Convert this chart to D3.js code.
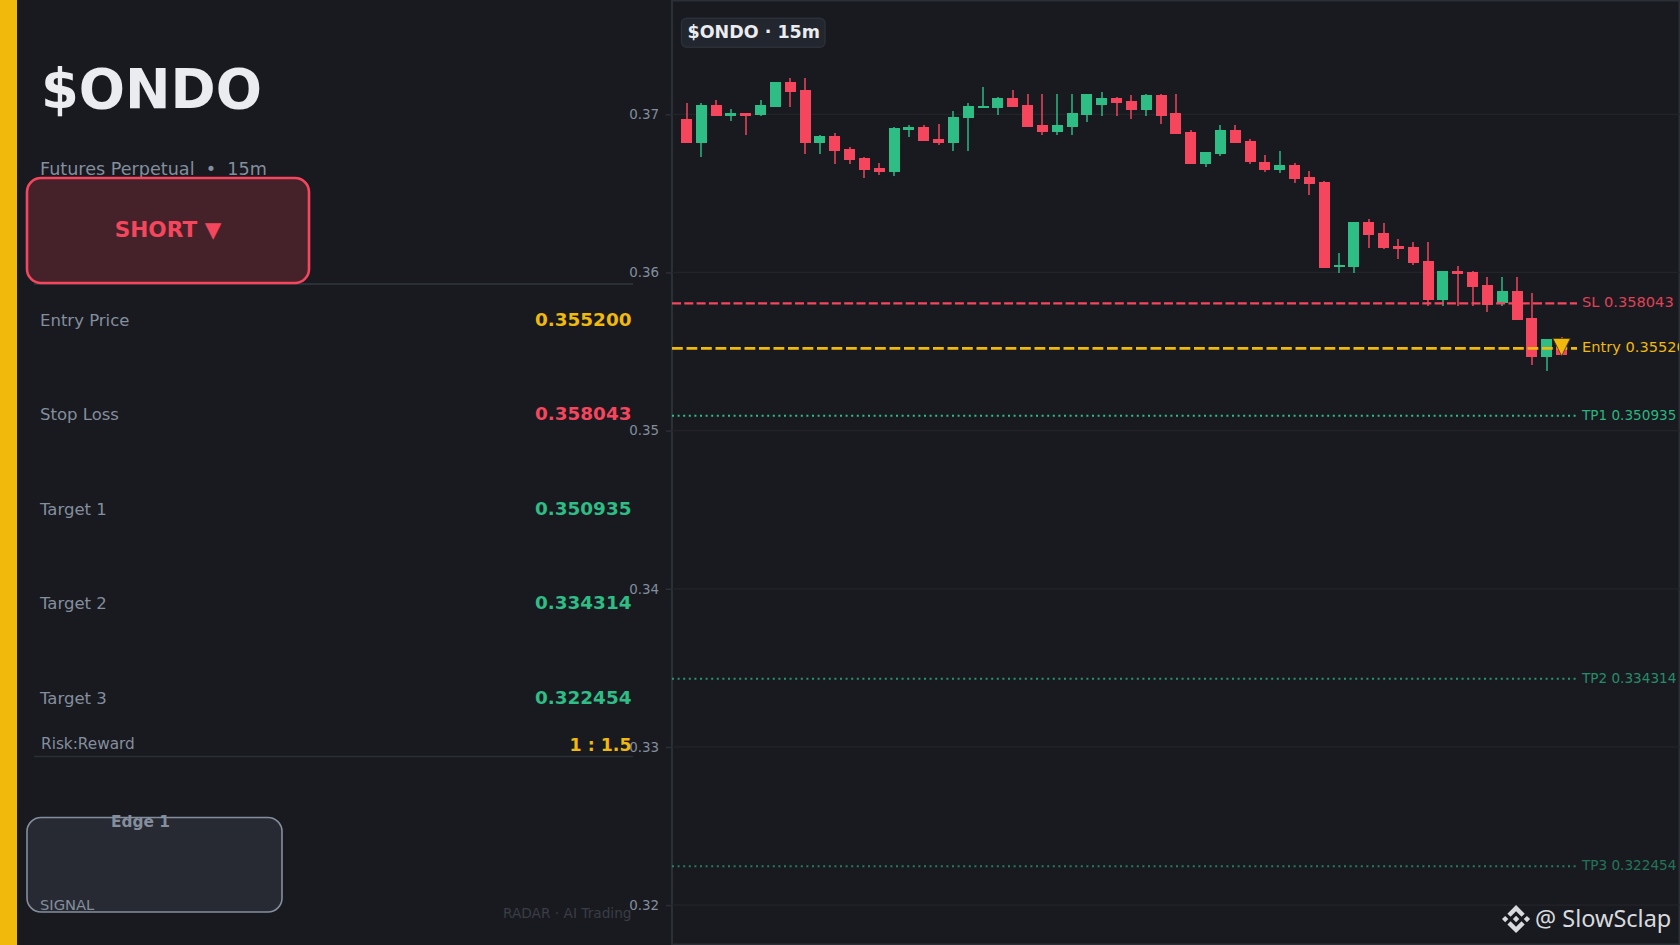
<!DOCTYPE html>
<html><head><meta charset="utf-8">
<script src="https://cdnjs.cloudflare.com/ajax/libs/d3/7.8.5/d3.min.js"></script>
<style>html,body{margin:0;padding:0;background:#181a20;overflow:hidden}svg{display:block}text{font-family:"DejaVu Sans",sans-serif}</style>
</head><body><svg id="c" width="1680" height="945"></svg>
<script>
const opens=[.36970,.36819,.37059,.36989,.37008,.36996,.37046,.37204,.37154,.36819,.36863,.36781,.36724,.36661,.36635,.36901,.36920,.36844,.36819,.36977,.37040,.37040,.37103,.37059,.36933,.36888,.36920,.36996,.37059,.37103,.37084,.37027,.37122,.37008,.36888,.36686,.36749,.36901,.36831,.36699,.36648,.36680,.36604,.36572,.36035,.36035,.36319,.36250,.36167,.36161,.36072,.35826,.36009,.36003,.35921,.35807,.35883,.35712,.35465,.35550];
const highs=[.37072,.37072,.37091,.37034,.37008,.37091,.37204,.37230,.37230,.36869,.36882,.36793,.36730,.36692,.36920,.36933,.36933,.36939,.37021,.37072,.37173,.37110,.37154,.37129,.37129,.37129,.37129,.37129,.37141,.37110,.37122,.37129,.37129,.37129,.36901,.36762,.36933,.36933,.36844,.36743,.36768,.36692,.36642,.36578,.36123,.36319,.36338,.36313,.36212,.36193,.36193,.36009,.36041,.36009,.35971,.35971,.35971,.35870,.35579,.35592];
const lows=[.36819,.36730,.36989,.36958,.36869,.36989,.37046,.37046,.36749,.36749,.36686,.36686,.36597,.36616,.36610,.36857,.36831,.36806,.36768,.36768,.37040,.36996,.37046,.36920,.36869,.36869,.36869,.36952,.36989,.36989,.36970,.36989,.36939,.36876,.36686,.36667,.36736,.36819,.36686,.36635,.36629,.36566,.36490,.36028,.35997,.35997,.36155,.36148,.36085,.36047,.35788,.35788,.35788,.35788,.35750,.35788,.35699,.35415,.35377,.35478];
const closes=[.36819,.37059,.36989,.37008,.36989,.37059,.37204,.37141,.36819,.36863,.36768,.36711,.36648,.36635,.36914,.36920,.36831,.36819,.36983,.37053,.37053,.37103,.37046,.36920,.36888,.36933,.37008,.37129,.37103,.37072,.37027,.37122,.36989,.36876,.36686,.36762,.36901,.36819,.36699,.36648,.36680,.36591,.36559,.36028,.36047,.36319,.36237,.36155,.36148,.36060,.35826,.36009,.35990,.35908,.35794,.35883,.35699,.35465,.35579,.35478];
const yTicks=[.32,.33,.34,.35,.36,.37];
const levels=[
 {name:"SL",value:.358043},
 {name:"Entry",value:.3552},
 {name:"TP1",value:.350935},
 {name:"TP2",value:.334314},
 {name:"TP3",value:.322454}];
const rowLabels=["Entry Price","Stop Loss","Target 1","Target 2","Target 3"];
const rowValues=["0.355200","0.358043","0.350935","0.334314","0.322454"];

const YEL="#f0b90b",RED="#f6465d",GRN="#2ebd85",GREY="#848e9c",LINE="#2b2f36";
const levelStyle={SL:{c:RED,w:2.3,d:"9,3.3",o:1,to:.9},Entry:{c:YEL,w:2.8,d:"10.8,3.7",o:1,to:1},TP1:{c:GRN,w:2,d:"2,3.6",o:1,to:.95},TP2:{c:GRN,w:2,d:"2,3.6",o:.75,to:.7},TP3:{c:GRN,w:2,d:"2,3.6",o:.6,to:.55}};

const svg=d3.select("#c");
const x=d3.scaleLinear().domain([0,opens.length-1]).range([686.5,1561.6]);
const y=d3.scaleLinear().domain([.32,.37]).range([905.1,114.3]);

const T=(g,tx,ty,s,size,fill,opt={})=>g.append("text").attr("x",tx).attr("y",ty).text(s)
  .attr("font-size",size).attr("fill",fill).attr("font-weight",opt.b?"bold":"normal").attr("text-anchor",opt.a||"start");

// left panel
const p=svg.append("g");
p.append("rect").attr("width",17).attr("height",945).attr("fill",YEL);
T(p,41,108,"$ONDO",54.4,"#eaecef",{b:1});
T(p,40,175,"Futures Perpetual  •  15m",17.6,GREY).attr("xml:space","preserve");
p.append("line").attr("x1",34).attr("x2",633).attr("y1",284).attr("y2",284).attr("stroke",LINE).attr("stroke-width",2);
p.append("rect").attr("x",27).attr("y",178).attr("width",282).attr("height",105).attr("rx",14).attr("fill","#452229").attr("stroke",RED).attr("stroke-width",2.6);
T(p,168,237,"SHORT ▼",21.6,RED,{b:1,a:"middle"});
const rowColors=[YEL,RED,GRN,GRN,GRN];
const rowY=d3.scalePoint().domain(rowLabels).range([325.6,703.8]);
rowLabels.forEach((l,i)=>{
  T(p,40,rowY(l),l,16.5,GREY);
  T(p,631.5,rowY(l),rowValues[i],18.4,rowColors[i],{b:1,a:"end"});
});
T(p,41,749,"Risk:Reward",15.3,GREY);
T(p,631.5,751,"1 : 1.5",17.4,YEL,{b:1,a:"end"});
p.append("line").attr("x1",34).attr("x2",633).attr("y1",756.5).attr("y2",756.5).attr("stroke",LINE).attr("stroke-width",1.5);
p.append("rect").attr("x",27).attr("y",817.5).attr("width",255).attr("height",94.5).attr("rx",14).attr("fill","#272a33").attr("stroke",GREY).attr("stroke-width",1.6);
T(p,140.5,827,"Edge 1",15.4,GREY,{b:1,a:"middle"});
T(p,40,909.5,"SIGNAL",14.7,GREY);
T(p,631.5,918,"RADAR · AI Trading",13.7,"#3a3d45",{a:"end"});

// chart frame + grid
const ch=svg.append("g");
ch.append("rect").attr("x",672).attr("y",.5).attr("width",1007.5).attr("height",944).attr("fill","none").attr("stroke",LINE).attr("stroke-width",2);
ch.selectAll("line.grid").data(yTicks).join("line").attr("class","grid").attr("x1",672).attr("x2",1680)
  .attr("y1",d=>y(d)).attr("y2",d=>y(d)).attr("stroke","#222429").attr("stroke-width",1.2);
const ax=ch.append("g").attr("transform","translate(672,0)").call(d3.axisLeft(y).tickValues(yTicks).tickFormat(d3.format(".2f")).tickSize(6).tickPadding(7));
ax.select(".domain").remove();
ax.selectAll("line").attr("stroke",LINE).attr("stroke-width",1.5);
ax.selectAll("text").attr("fill",GREY).attr("font-size",13.4).attr("font-family","DejaVu Sans");

// candles
const idx=d3.range(opens.length);
const col=i=>closes[i]>=opens[i]?GRN:RED;
const cg=ch.append("g").attr("shape-rendering","crispEdges");
cg.selectAll("rect.w").data(idx).join("rect").attr("class","w")
  .attr("x",i=>x(i)-1).attr("width",2).attr("y",i=>y(highs[i])).attr("height",i=>y(lows[i])-y(highs[i]))
  .attr("fill",col).attr("opacity",.72);
cg.selectAll("rect.b").data(idx).join("rect").attr("class","b")
  .attr("x",i=>x(i)-5.5).attr("width",11)
  .attr("y",i=>y(Math.max(opens[i],closes[i]))).attr("height",i=>Math.max(1.5,Math.abs(y(opens[i])-y(closes[i]))))
  .attr("fill",col);

// levels
const lv=ch.append("g");
lv.selectAll("line").data(levels).join("line").attr("x1",672).attr("x2",1577)
  .attr("y1",d=>y(d.value)).attr("y2",d=>y(d.value))
  .attr("stroke",d=>levelStyle[d.name].c).attr("stroke-width",d=>levelStyle[d.name].w)
  .attr("stroke-dasharray",d=>levelStyle[d.name].d).attr("opacity",d=>levelStyle[d.name].o);
const clip=svg.append("clipPath").attr("id","cl").append("rect").attr("x",672).attr("y",0).attr("width",1007).attr("height",945);
lv.selectAll("text").data(levels).join("text").attr("clip-path","url(#cl)")
  .attr("x",1582).attr("y",d=>y(d.value)+(d.name==="SL"||d.name==="Entry"?3.6:3.8)).text(d=>d.name+" "+d.value.toFixed(6))
  .attr("font-size",d=>d.name==="SL"||d.name==="Entry"?14.6:13.6)
  .attr("fill",d=>levelStyle[d.name].c).attr("opacity",d=>levelStyle[d.name].to);

// entry marker
const ex=x(opens.length-1),ey=y(levels[1].value);
ch.append("path").attr("d",`M${ex-8.8},${ey-10}L${ex+8.8},${ey-10}L${ex},${ey+7.6}Z`).attr("fill",YEL).attr("stroke","#3a3216").attr("stroke-width",.8);

// badge
ch.append("rect").attr("x",681.5).attr("y",18.3).attr("width",143.5).attr("height",29).attr("rx",5).attr("fill","#22262e").attr("stroke",LINE).attr("stroke-width",1.5);
T(ch,687.5,38,"$ONDO · 15m",17.5,"#eaecef",{b:1});

// watermark
const wm=svg.append("g");
wm.append("path").attr("transform","translate(1502,905) scale(.222)")
  .attr("d","M38.73 53.2l24.59-24.58 24.6 24.6 14.3-14.31L63.32 0 24.42 38.9zM0 63.31l14.3-14.31 14.31 14.31-14.31 14.3zM38.73 73.41l24.59 24.59 24.6-24.6 14.31 14.29-38.9 38.91-38.91-38.88zM98 63.31l14.3-14.31 14.31 14.3-14.31 14.32zM77.83 63.3L63.32 48.78 52.59 59.51l-1.24 1.23-2.54 2.54 14.51 14.5 14.51-14.47z")
  .attr("fill","#d8dadd");
T(wm,1535,927,"@ SlowSclap",23.5,"#d8dadd").attr("style","font-family:'Noto Sans'");
</script></body></html>
